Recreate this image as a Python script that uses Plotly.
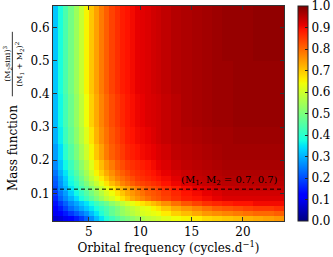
import plotly.graph_objects as go

# Orbital frequency bin edges (cycles/day)
freq_edges = [1.5, 2.0, 2.5, 3.0, 3.5, 4.0, 4.5, 5.0, 5.5, 6.0, 6.5, 7.0, 7.5, 8.0,
              8.5, 9.0, 9.5, 10.0, 10.5, 11.0, 11.5, 12.0,
              13.0, 14.0, 15.0, 16.0, 17.0, 18.0, 19.0, 20.0, 21.0, 22.0, 23.0, 24.0]

# Mass function bin edges
massfn_edges = [0.017, 0.032, 0.047, 0.062, 0.077, 0.092, 0.107, 0.122, 0.137,
                0.152, 0.17, 0.2, 0.25, 0.3, 0.4, 0.5, 0.665]

# Detection fraction per cell (rows: mass function bins bottom->top, cols: frequency bins)
row_00 = [0.07, 0.08, 0.10, 0.12, 0.15, 0.18, 0.22, 0.26, 0.31, 0.35, 0.39, 0.42, 0.45, 0.48, 0.50, 0.52, 0.54, 0.56, 0.58, 0.59, 0.60,
          0.62, 0.64, 0.65, 0.66, 0.68, 0.69, 0.70, 0.71, 0.72, 0.73, 0.74, 0.75]
row_01 = [0.10, 0.12, 0.15, 0.18, 0.21, 0.24, 0.27, 0.31, 0.35, 0.39, 0.43, 0.47, 0.50, 0.53, 0.55, 0.57, 0.59, 0.61, 0.62, 0.63, 0.64,
          0.66, 0.69, 0.71, 0.73, 0.75, 0.76, 0.77, 0.78, 0.79, 0.80, 0.80, 0.81]
row_02 = [0.12, 0.15, 0.19, 0.23, 0.26, 0.29, 0.32, 0.35, 0.38, 0.41, 0.44, 0.47, 0.50, 0.53, 0.56, 0.58, 0.60, 0.62, 0.63, 0.65, 0.67,
          0.70, 0.73, 0.75, 0.77, 0.79, 0.81, 0.82, 0.83, 0.84, 0.85, 0.85, 0.86]
row_03 = [0.14, 0.18, 0.22, 0.26, 0.29, 0.32, 0.35, 0.38, 0.42, 0.45, 0.48, 0.52, 0.55, 0.58, 0.61, 0.63, 0.65, 0.67, 0.69, 0.71, 0.73,
          0.76, 0.79, 0.82, 0.84, 0.86, 0.87, 0.88, 0.89, 0.89, 0.90, 0.90, 0.90]
row_04 = [0.16, 0.22, 0.26, 0.30, 0.34, 0.38, 0.42, 0.46, 0.50, 0.54, 0.58, 0.61, 0.64, 0.67, 0.70, 0.73, 0.75, 0.77, 0.79, 0.81, 0.82,
          0.84, 0.86, 0.88, 0.89, 0.90, 0.91, 0.92, 0.92, 0.92, 0.92, 0.92, 0.92]
row_05 = [0.18, 0.24, 0.28, 0.33, 0.37, 0.41, 0.45, 0.49, 0.53, 0.57, 0.61, 0.64, 0.67, 0.70, 0.73, 0.75, 0.77, 0.79, 0.81, 0.82, 0.83,
          0.85, 0.87, 0.89, 0.90, 0.91, 0.92, 0.93, 0.93, 0.93, 0.93, 0.93, 0.93]
row_06 = [0.20, 0.26, 0.30, 0.35, 0.39, 0.43, 0.47, 0.51, 0.55, 0.59, 0.63, 0.66, 0.69, 0.72, 0.74, 0.76, 0.78, 0.80, 0.82, 0.83, 0.84,
          0.86, 0.88, 0.90, 0.91, 0.92, 0.93, 0.935, 0.94, 0.94, 0.94, 0.94, 0.94]
row_07 = [0.21, 0.27, 0.32, 0.37, 0.41, 0.46, 0.50, 0.55, 0.59, 0.63, 0.67, 0.71, 0.74, 0.77, 0.79, 0.81, 0.83, 0.84, 0.85, 0.86, 0.87,
          0.89, 0.905, 0.92, 0.93, 0.94, 0.945, 0.95, 0.95, 0.95, 0.95, 0.95, 0.95]
row_08 = [0.22, 0.28, 0.33, 0.38, 0.43, 0.48, 0.53, 0.58, 0.62, 0.66, 0.70, 0.74, 0.77, 0.79, 0.81, 0.83, 0.85, 0.86, 0.87, 0.88, 0.89,
          0.90, 0.915, 0.93, 0.94, 0.945, 0.95, 0.955, 0.955, 0.955, 0.955, 0.955, 0.955]
row_09 = [0.24, 0.30, 0.35, 0.40, 0.45, 0.50, 0.55, 0.60, 0.65, 0.69, 0.73, 0.76, 0.79, 0.81, 0.83, 0.85, 0.86, 0.87, 0.88, 0.89, 0.90,
          0.91, 0.925, 0.935, 0.945, 0.95, 0.955, 0.96, 0.96, 0.96, 0.96, 0.96, 0.96]
row_10 = [0.26, 0.32, 0.37, 0.42, 0.47, 0.52, 0.57, 0.62, 0.67, 0.71, 0.75, 0.78, 0.81, 0.83, 0.85, 0.86, 0.87, 0.88, 0.89, 0.90, 0.91,
          0.92, 0.935, 0.945, 0.95, 0.955, 0.96, 0.965, 0.965, 0.965, 0.965, 0.965, 0.965]
row_11 = [0.28, 0.34, 0.40, 0.45, 0.50, 0.55, 0.60, 0.65, 0.70, 0.74, 0.78, 0.81, 0.83, 0.85, 0.87, 0.88, 0.89, 0.90, 0.905, 0.91, 0.92,
          0.93, 0.945, 0.95, 0.955, 0.96, 0.965, 0.97, 0.97, 0.97, 0.97, 0.97, 0.97]
row_12 = [0.30, 0.36, 0.42, 0.47, 0.52, 0.57, 0.62, 0.67, 0.72, 0.76, 0.79, 0.82, 0.84, 0.86, 0.88, 0.89, 0.90, 0.905, 0.91, 0.92, 0.93,
          0.94, 0.95, 0.955, 0.96, 0.965, 0.97, 0.97, 0.975, 0.975, 0.975, 0.975, 0.975]
row_13 = [0.31, 0.37, 0.43, 0.48, 0.53, 0.58, 0.64, 0.69, 0.73, 0.77, 0.80, 0.83, 0.85, 0.87, 0.885, 0.895, 0.905, 0.91, 0.92, 0.925, 0.93,
          0.94, 0.95, 0.96, 0.965, 0.97, 0.975, 0.975, 0.98, 0.98, 0.98, 0.98, 0.98]
row_14 = [0.32, 0.38, 0.44, 0.49, 0.54, 0.59, 0.65, 0.70, 0.74, 0.78, 0.81, 0.84, 0.86, 0.88, 0.89, 0.90, 0.91, 0.915, 0.92, 0.93, 0.935,
          0.945, 0.955, 0.96, 0.965, 0.97, 0.975, 0.975, 0.98, 0.98, 0.98, 0.98, 0.98]
row_15 = [0.32, 0.38, 0.44, 0.49, 0.54, 0.59, 0.65, 0.70, 0.74, 0.78, 0.81, 0.84, 0.86, 0.88, 0.89, 0.90, 0.91, 0.915, 0.92, 0.93, 0.935,
          0.945, 0.955, 0.96, 0.965, 0.97, 0.975, 0.98, 0.98, 0.98, 0.985, 0.985, 0.985]
detection_fraction = [row_00, row_01, row_02, row_03, row_04, row_05, row_06, row_07,
                      row_08, row_09, row_10, row_11, row_12, row_13, row_14, row_15]

x_ticks = [5, 10, 15, 20]
y_ticks = [0.1, 0.2, 0.3, 0.4, 0.5, 0.6]
cbar_ticks = [0.0, 0.1, 0.2, 0.3, 0.4, 0.5, 0.6, 0.7, 0.8, 0.9, 1.0]
cbar_labels = ["0.0", "0.1", "0.2", "0.3", "0.4", "0.5", "0.6", "0.7", "0.8", "0.9", "1.0"]

ref_massfn = 0.113
ref_label = "(M<sub>1</sub>, M<sub>2</sub> = 0.7, 0.7)"

# matplotlib "jet"
jet = [
    [0.0, "rgb(0,0,128)"], [0.11, "rgb(0,0,255)"], [0.125, "rgb(0,0,255)"],
    [0.34, "rgb(0,219,255)"], [0.35, "rgb(0,230,247)"], [0.375, "rgb(21,255,226)"],
    [0.64, "rgb(239,255,8)"], [0.65, "rgb(247,245,0)"], [0.66, "rgb(255,236,0)"],
    [0.89, "rgb(255,19,0)"], [0.91, "rgb(232,0,0)"], [1.0, "rgb(128,0,0)"],
]

FONT = "DejaVu Serif"

fig = go.Figure()
fig.add_trace(go.Heatmap(
    x=freq_edges, y=massfn_edges, z=detection_fraction,
    colorscale=jet, zmin=0, zmax=1, hoverinfo="skip",
    colorbar=dict(
        x=1.0606, xanchor="left", y=0.5, yanchor="middle",
        len=1, lenmode="fraction", thickness=10, thicknessmode="pixels",
        xpad=0, ypad=0, outlinewidth=1, outlinecolor="#222",
        tickmode="array", tickvals=cbar_ticks, ticktext=cbar_labels,
        ticklabeloverflow="allow",
        ticks="inside", ticklen=3, tickcolor="#222",
        tickfont=dict(family=FONT, size=12, color="black"),
    ),
))
fig.add_trace(go.Scatter(
    x=[freq_edges[0], freq_edges[-1]], y=[ref_massfn, ref_massfn],
    mode="lines", line=dict(color="black", width=1, dash="4px,3px"),
    showlegend=False, hoverinfo="skip",
))

fig.add_annotation(
    x=23.6, y=ref_massfn, xref="x", yref="y", text=ref_label,
    showarrow=False, xanchor="right", yanchor="bottom", yshift=0,
    font=dict(family=FONT, size=10, color="black"),
)

# y-axis title: "Mass function" + fraction
fig.add_annotation(
    x=-0.173, y=0.34, xref="paper", yref="paper", text="Mass function",
    textangle=-90, showarrow=False, xanchor="center", yanchor="middle",
    font=dict(family=FONT, size=12, color="black"),
)
fig.add_annotation(
    x=-0.200, y=0.73, xref="paper", yref="paper",
    text="(M<sub>2</sub>sini)<sup>3</sup>",
    textangle=-90, showarrow=False, xanchor="center", yanchor="middle",
    font=dict(family=FONT, size=8, color="black"),
)
fig.add_annotation(
    x=-0.148, y=0.73, xref="paper", yref="paper",
    text="(M<sub>1</sub> + M<sub>2</sub>)<sup>2</sup>",
    textangle=-90, showarrow=False, xanchor="center", yanchor="middle",
    font=dict(family=FONT, size=8, color="black"),
)
fig.add_shape(type="line", xref="paper", yref="paper",
              x0=-0.176, x1=-0.176, y0=0.58, y1=0.88,
              line=dict(color="black", width=0.8))

axis_common = dict(
    showline=True, mirror="ticks", linecolor="#333", linewidth=1,
    ticks="inside", ticklen=4, tickcolor="#333", showgrid=False, zeroline=False,
    tickfont=dict(family=FONT, size=12, color="black"),
)
fig.update_xaxes(range=[freq_edges[0], freq_edges[-1]], tickvals=x_ticks,
                 title=dict(text="Orbital frequency (cycles.d<sup>−1</sup>)",
                            font=dict(family=FONT, size=12, color="black"), standoff=4),
                 **axis_common)
fig.update_yaxes(range=[massfn_edges[0], massfn_edges[-1]], tickvals=y_ticks,
                 tickformat=".1f", **axis_common)

fig.update_layout(
    width=333, height=257,
    margin=dict(l=53, r=49, t=6, b=36, autoexpand=False),
    paper_bgcolor="white", plot_bgcolor="white",
    showlegend=False,
)

fig.write_html("out.html", config={"displayModeBar": False},
               post_script="document.body.style.margin='0';document.body.style.padding='0';")
